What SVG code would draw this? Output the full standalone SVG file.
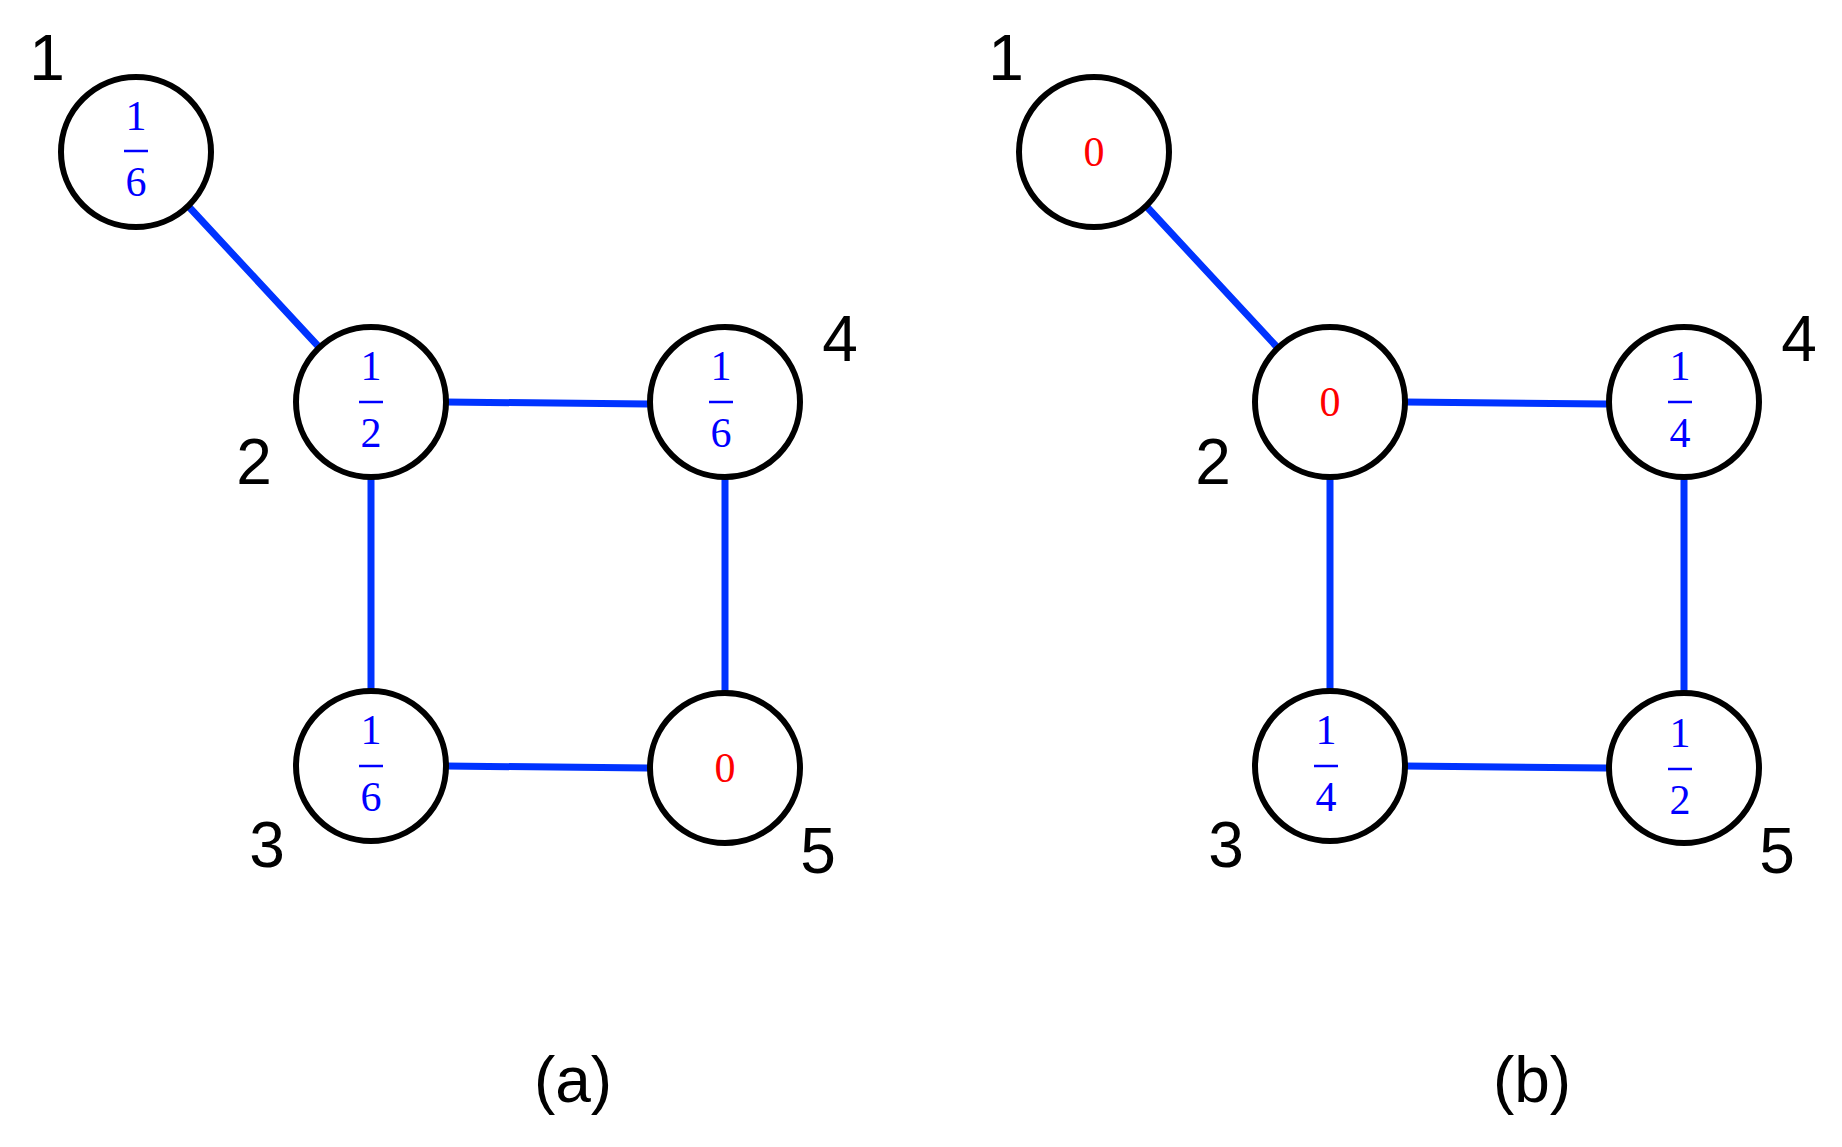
<svg xmlns="http://www.w3.org/2000/svg" width="1842" height="1147" viewBox="0 0 1842 1147">
<style>
.n{fill:#fff;stroke:#000;stroke-width:6}
.e{stroke:#0033ff;stroke-width:7;stroke-linecap:round;fill:none}
.lb{font-family:"Liberation Sans",Arial,sans-serif;font-size:64px;fill:#000;text-anchor:middle}
.f{font-family:"Liberation Serif","Times New Roman",serif;font-size:42px;fill:#0000ff;text-anchor:middle}
.z{font-family:"Liberation Serif","Times New Roman",serif;font-size:42px;fill:#ff0000;text-anchor:middle}
.bar{stroke:#0000ff;stroke-width:2.5}
</style>
<rect width="1842" height="1147" fill="#fff"/>
<g id="connectors">
<line class="e" x1="190" y1="208" x2="318" y2="346"/>
<line class="e" x1="446" y1="402" x2="648" y2="404"/>
<line class="e" x1="371" y1="478" x2="371" y2="690"/>
<line class="e" x1="725" y1="480" x2="725" y2="690"/>
<line class="e" x1="446" y1="766" x2="648" y2="768"/>
<line class="e" x1="1148" y1="208" x2="1276" y2="346"/>
<line class="e" x1="1405" y1="402" x2="1606" y2="404"/>
<line class="e" x1="1330" y1="478" x2="1330" y2="690"/>
<line class="e" x1="1684" y1="480" x2="1684" y2="690"/>
<line class="e" x1="1405" y1="766" x2="1606" y2="768"/>
</g>
<g id="a1"><circle class="n" cx="136" cy="152" r="75"/><text class="f" x="136" y="130">1</text><line class="bar" x1="124" y1="151" x2="148" y2="151"/><text class="f" x="136" y="196">6</text><text class="lb" x="47" y="80">1</text></g>
<g id="a2"><circle class="n" cx="371" cy="402" r="75"/><text class="f" x="371" y="380">1</text><line class="bar" x1="359" y1="402" x2="383" y2="402"/><text class="f" x="371" y="447">2</text><text class="lb" x="254" y="484">2</text></g>
<g id="a4"><circle class="n" cx="725" cy="402" r="75"/><text class="f" x="721" y="380">1</text><line class="bar" x1="709" y1="402" x2="733" y2="402"/><text class="f" x="721" y="447">6</text><text class="lb" x="840" y="361">4</text></g>
<g id="a3"><circle class="n" cx="371" cy="766" r="75"/><text class="f" x="371" y="744">1</text><line class="bar" x1="359" y1="766" x2="383" y2="766"/><text class="f" x="371" y="811">6</text><text class="lb" x="267" y="867">3</text></g>
<g id="a5"><circle class="n" cx="725" cy="768" r="75"/><text class="z" x="725" y="782">0</text><text class="lb" x="818" y="873">5</text></g>
<text class="lb" x="573" y="1102">(a)</text>
<g id="b1"><circle class="n" cx="1094" cy="152" r="75"/><text class="z" x="1094" y="166">0</text><text class="lb" x="1006" y="80">1</text></g>
<g id="b2"><circle class="n" cx="1330" cy="402" r="75"/><text class="z" x="1330" y="416">0</text><text class="lb" x="1213" y="484">2</text></g>
<g id="b4"><circle class="n" cx="1684" cy="402" r="75"/><text class="f" x="1680" y="380">1</text><line class="bar" x1="1668" y1="402" x2="1692" y2="402"/><text class="f" x="1680" y="447">4</text><text class="lb" x="1799" y="361">4</text></g>
<g id="b3"><circle class="n" cx="1330" cy="766" r="75"/><text class="f" x="1326" y="744">1</text><line class="bar" x1="1314" y1="766" x2="1338" y2="766"/><text class="f" x="1326" y="811">4</text><text class="lb" x="1226" y="867">3</text></g>
<g id="b5"><circle class="n" cx="1684" cy="768" r="75"/><text class="f" x="1680" y="747">1</text><line class="bar" x1="1668" y1="769" x2="1692" y2="769"/><text class="f" x="1680" y="814">2</text><text class="lb" x="1777" y="873">5</text></g>
<text class="lb" x="1532" y="1102">(b)</text>
</svg>
